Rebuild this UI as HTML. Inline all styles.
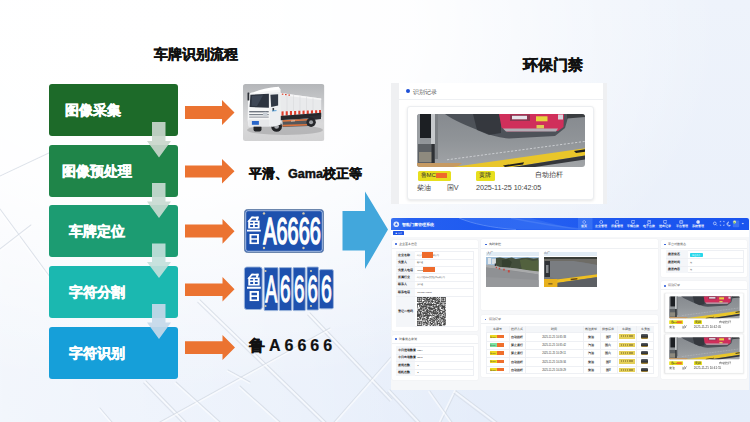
<!DOCTYPE html>
<html><head><meta charset="utf-8">
<style>
*{margin:0;padding:0;box-sizing:border-box}
html,body{width:750px;height:422px;overflow:hidden}
body{position:relative;font-family:"Liberation Sans",sans-serif;background:radial-gradient(ellipse 560px 360px at 160px 30px,#ffffff 0%,rgba(255,255,255,0.92) 45%,rgba(255,255,255,0) 100%),linear-gradient(90deg,rgba(255,255,255,0.5) 0%,rgba(255,255,255,0.25) 40%,rgba(255,255,255,0) 65%),linear-gradient(180deg,#eef3fb 0%,#eaf0fa 60%,#e5edfa 100%)}
.a{position:absolute}
.t{position:absolute;white-space:nowrap;font-weight:bold;line-height:1;-webkit-text-stroke:0.45px #111}
.box{position:absolute;left:49px;width:129px;height:52px;border-radius:3px}
.bt{position:absolute;color:#fff;font-weight:bold;font-size:14px;line-height:14px;white-space:nowrap;-webkit-text-stroke:0.5px #fff}
.oa{position:absolute;left:185px;width:50px;height:26px}
/* GENCSS START */
.rc{position:absolute;width:187px;height:94px;background:#fff;border:1px solid #eceef1;border-radius:3px;box-shadow:0 1px 3px rgba(0,0,0,0.10)}
.rc svg{position:absolute;left:9px;top:6.5px;border-radius:3px}
.rc .bd{position:absolute;top:63.8px;height:9.7px;background:#e7df1e;border-radius:1.5px;font-size:6px;line-height:9.7px;color:#333;padding-left:3px;white-space:nowrap}
.rc .tx{position:absolute;white-space:nowrap;color:#444;font-size:7.2px;line-height:8px}
.rc.sm{transform:scale(0.42);transform-origin:0 0;box-shadow:0 1px 4px rgba(0,0,0,0.12)}
.pn{position:absolute;background:#fff;border-radius:1.5px;box-shadow:0 0 1.5px rgba(0,0,0,0.07)}
.dot{position:absolute;width:1.9px;height:1.9px;background:#2152d8;border-radius:50%}
.ph{position:absolute;font-size:3.1px;line-height:3.4px;color:#333;white-space:nowrap}
.tb{position:absolute;border:0.5px solid #eef0f4;background:#fff}
.tk{position:absolute;font-size:2.9px;line-height:3px;color:#111;font-weight:bold;white-space:nowrap}
.tv{position:absolute;font-size:2.4px;line-height:3px;color:#3a3a3a;white-space:nowrap}
.tc{position:absolute;width:20px;text-align:center;font-size:2.6px;line-height:3px;color:#333;white-space:nowrap}
.lbl{position:absolute;font-size:2.9px;line-height:3.4px;color:#333;white-space:nowrap}
.nl{position:absolute;width:16px;text-align:center;font-size:2.6px;line-height:3px;color:#fff;font-weight:bold;white-space:nowrap}
/* GENCSS END */
</style></head><body>

<!-- shared scene symbols -->
<svg width="0" height="0" style="position:absolute">
<defs>
<linearGradient id="roadg" x1="0" y1="0" x2="0" y2="1"><stop offset="0" stop-color="#868a8f"/><stop offset="0.5" stop-color="#909498"/><stop offset="1" stop-color="#a1a4a7"/></linearGradient>
<symbol id="lu" viewBox="0 0 12.9 27.9" preserveAspectRatio="none">
<path d="M4.3 0.2 H10.8 V2.1 H4.3Z"/>
<path d="M4.3 0.2 L6.4 0.2 L2.4 5.4 L0.3 5.4Z"/>
<path d="M8.9 0.2 L10.9 0.2 L10.1 4.3 L8.2 4.3Z"/>
<path d="M1.2 4.1 H11.7 V12.2 H1.2Z M3 5.7 V7.2 H5.7 V5.7Z M7.3 5.7 V7.2 H9.9 V5.7Z M3 8.7 V10.6 H5.7 V8.7Z M7.3 8.7 V10.6 H9.9 V8.7Z" fill-rule="evenodd"/>
<path d="M0 13.4 H12.9 V15.3 H0Z"/>
<path d="M2.4 17.6 H11.1 V27.9 H2.4Z M4.2 19.3 V21.9 H9.3 V19.3Z M4.2 23.5 V26.2 H9.3 V23.5Z" fill-rule="evenodd"/>
</symbol>
<symbol id="rec" viewBox="0 0 168 53" preserveAspectRatio="none">
<rect width="168" height="53" fill="url(#roadg)"/>
<path d="M28 0 C36 6 50 12 66 18 C76 22 84 24 92 24.5 L138 22 L148 14 L152 0Z" fill="#3f444c" opacity="0.82"/>
<path d="M56 0 H84 L84 19 L72 21 L60 16Z" fill="#2b2e33" opacity="0.7"/>
<path d="M82 0 H147 L146.5 13 L141 17 L90 17.5 L84.5 13.5Z" fill="#d02f5b"/>
<rect x="93" y="0.5" width="20" height="6.5" fill="#8a3550"/>
<rect x="95" y="1.8" width="15" height="3.5" fill="#e6e3ea"/>
<rect x="119" y="2.3" width="11.5" height="5" fill="#e6d43e"/>
<rect x="119.5" y="11" width="7.5" height="3.5" fill="#dccb55"/>
<rect x="141" y="0.5" width="5" height="5" fill="#d7d4dc"/>
<path d="M86 14.5 H141 L139 17.5 H89Z" fill="#b3aeb6"/>
<path d="M150 0 H168 V3 L150 4.5Z" fill="#3a3d40"/>
<rect x="0" y="0" width="3" height="53" fill="#9a9ea2"/>
<rect x="3" y="0" width="11" height="24" fill="#1c1f23"/>
<rect x="14" y="0" width="4" height="38" fill="#c6c9cc"/>
<rect x="18" y="0" width="3" height="45" fill="#7c8084"/>
<rect x="1" y="30" width="17" height="19" fill="#5d6165"/>
<rect x="2" y="38" width="14" height="10" fill="#8e8a7e"/>
<rect x="14.5" y="30" width="3" height="19" fill="#2e3135"/>
<path d="M30 45.8 L168 27.4" stroke="#d0d3d6" stroke-width="0.9" stroke-dasharray="2.2 1.6"/>
<path d="M0 49 H45 L40 53 H0Z" fill="#c69a62"/>
<path d="M36 53 L168 34.2 V41.5 L96 53Z" fill="#e9c62a"/>
<path d="M96 53 L168 41.5 V45.5 L118 53Z" fill="#34363a"/>
<path d="M86 51.4 L107 48.3 L106 50.6 L88 53Z" fill="#1f1f1f"/>
<path d="M157 37 L168 35.3 V37.8 L159 39Z" fill="#1f1f1f"/>
</symbol>
<symbol id="inimg" viewBox="0 0 53 30" preserveAspectRatio="none">
<rect width="53" height="30" fill="#8b8d90"/>
<rect width="53" height="9" fill="#a3c0da"/>
<rect x="2" y="1" width="3" height="6" fill="#e4e8ec"/><rect x="6" y="2" width="4" height="5" fill="#d8dde2"/>
<path d="M10 1 L14 0.5 L20 1.5 L26 0.5 L30 2 L36 1 L42 0.8 L48 1.5 L53 1 V14.5 L44 13.5 L34 12 L24 10.8 L14 10 L10 9.5Z" fill="#434e3c"/>
<path d="M34 3 L40 2 L47 4 L53 3 V14.5 L44 13.5 L36 12.5Z" fill="#56663f" opacity="0.8"/>
<path d="M16 3 L22 2 L26 5 L24 10.8 L16 10Z" fill="#35402f"/>
<path d="M0 7.5 L10 8.5 L14 10 L24 10.8 L34 12 L44 13.5 L53 14.5 V17.5 L40 15.5 L26 13.5 L10 11.5 L0 10.5Z" fill="#a9aaab"/>
<path d="M0 10.5 L53 17.5 V30 H0Z" fill="#8f9194"/>
<path d="M0 20 L53 23 V30 H0Z" fill="#96989b"/>
<g fill="#c4483e"><rect x="9.8" y="9.8" width="1.3" height="1.4"/><rect x="12.8" y="10.8" width="1.5" height="1.6"/><rect x="17.3" y="11.8" width="1.6" height="1.7"/><rect x="22" y="13.2" width="1.9" height="2.2"/></g>
<rect x="8.8" y="6.5" width="1.2" height="2.5" fill="#2a2e33"/>
</symbol>
<symbol id="outimg" viewBox="0 0 53 30" preserveAspectRatio="none">
<rect width="53" height="30" fill="#74777b"/>
<rect width="53" height="2.2" fill="#3a3d37"/>
<path d="M0 2 H53 V8 L40 5.5 L20 4 L0 4Z" fill="#6e6c66"/>
<path d="M5 4 L30 4 L53 8 V18 L12 22 L6 20Z" fill="#7a7d81"/>
<rect x="0.6" y="4" width="5.4" height="16" fill="#2f3236"/>
<rect x="2" y="8" width="2.5" height="8" fill="#85898d"/>
<path d="M12.6 22.4 L51.6 17.4 L53 17.2 V20.2 L51.6 20.3 L12.6 26.1Z" fill="#efbf22"/>
<path d="M12.6 26.1 L53 20.2 V30 H12.6Z" fill="#5c5f63"/>
<path d="M26.7 21.8 L33.4 21 V22.4 L26.7 23.2Z" fill="#6b4a12"/>
<rect x="0" y="22" width="13.4" height="8" fill="#e8b11e"/>
<rect x="4.3" y="26.3" width="4.2" height="1.1" fill="#6a5020"/>
</symbol>
</defs>
</svg>
<!-- background lines -->
<svg class="a" style="left:0;top:0" width="750" height="422" viewBox="0 0 750 422">
<g fill="none" stroke-linecap="round">
<path d="M200 300 L326 422" stroke="#d3d9e3" stroke-width="1.1" opacity="0.75"/>
<path d="M199.1 300.9 L325.1 422.9" stroke="#ffffff" stroke-width="1.6" opacity="0.55"/>
<path d="M197.8 302.3 L323.8 424.3" stroke="#d6dce6" stroke-width="1.1" opacity="0.7"/>
<path d="M146 381 L186 422" stroke="#d3d9e3" stroke-width="1.1" opacity="0.75"/>
<path d="M145.1 381.9 L185.1 422.9" stroke="#ffffff" stroke-width="1.6" opacity="0.55"/>
<path d="M143.7 383.2 L183.7 424.2" stroke="#d6dce6" stroke-width="1.1" opacity="0.7"/>
<path d="M310 313 L392 399" stroke="#d3d9e3" stroke-width="1.1" opacity="0.75"/>
<path d="M309.1 313.9 L391.1 399.9" stroke="#ffffff" stroke-width="1.6" opacity="0.55"/>
<path d="M307.7 315.2 L389.7 401.2" stroke="#d6dce6" stroke-width="1.1" opacity="0.7"/>
<path d="M334 422 L391 357" stroke="#d3d9e3" stroke-width="1.1" opacity="0.75"/>
<path d="M335.0 422.9 L392.0 357.9" stroke="#ffffff" stroke-width="1.6" opacity="0.55"/>
<path d="M160 422 L330 328" stroke="#d3d9e3" stroke-width="1.1" opacity="0.75"/>
<path d="M160.6 423.1 L330.6 329.1" stroke="#ffffff" stroke-width="1.6" opacity="0.55"/>
<path d="M240 386 L280 422" stroke="#d3d9e3" stroke-width="1.1" opacity="0.75"/>
<path d="M239.1 387.0 L279.1 423.0" stroke="#ffffff" stroke-width="1.6" opacity="0.55"/>
<path d="M176 382 L220 422" stroke="#d3d9e3" stroke-width="1.1" opacity="0.75"/>
<path d="M175.1 383.0 L219.1 423.0" stroke="#ffffff" stroke-width="1.6" opacity="0.55"/>
<path d="M100 408 L112 422" stroke="#d3d9e3" stroke-width="1.1" opacity="0.75"/>
<path d="M99.0 408.8 L111.0 422.8" stroke="#ffffff" stroke-width="1.6" opacity="0.55"/>
<path d="M0 176 L50 152.5" stroke="#d3d9e3" stroke-width="1.1" opacity="0.75"/>
<path d="M0.6 177.2 L50.6 153.7" stroke="#ffffff" stroke-width="1.6" opacity="0.55"/>
<path d="M0 209 L50 277" stroke="#d3d9e3" stroke-width="1.1" opacity="0.75"/>
<path d="M-1.0 209.8 L49.0 277.8" stroke="#ffffff" stroke-width="1.6" opacity="0.55"/>
<path d="M0 249 L31 225" stroke="#d3d9e3" stroke-width="1.1" opacity="0.75"/>
<path d="M0.8 250.0 L31.8 226.0" stroke="#ffffff" stroke-width="1.6" opacity="0.55"/>
<path d="M390 390 L420 422" stroke="#d3d9e3" stroke-width="1.1" opacity="0.75"/>
<path d="M389.1 390.9 L419.1 422.9" stroke="#ffffff" stroke-width="1.6" opacity="0.55"/>
<path d="M387.7 392.2 L417.7 424.2" stroke="#d6dce6" stroke-width="1.1" opacity="0.7"/>
<path d="M456 391 L441 422" stroke="#d3d9e3" stroke-width="1.1" opacity="0.75"/>
<path d="M454.8 390.4 L439.8 421.4" stroke="#ffffff" stroke-width="1.6" opacity="0.55"/>
<path d="M456 391 L497 422" stroke="#d3d9e3" stroke-width="1.1" opacity="0.75"/>
<path d="M455.2 392.0 L496.2 423.0" stroke="#ffffff" stroke-width="1.6" opacity="0.55"/>
<path d="M454.1 393.6 L495.1 424.6" stroke="#d6dce6" stroke-width="1.1" opacity="0.7"/>
<path d="M430 391 L452 422" stroke="#d3d9e3" stroke-width="1.1" opacity="0.75"/>
<path d="M428.9 391.8 L450.9 422.8" stroke="#ffffff" stroke-width="1.6" opacity="0.55"/>
<path d="M228 370 L250 382" stroke="#d3d9e3" stroke-width="1.1" opacity="0.75"/>
<path d="M227.4 371.1 L249.4 383.1" stroke="#ffffff" stroke-width="1.6" opacity="0.55"/>
</g></svg>

<div class="t" style="left:154px;top:47px;font-size:14px;color:#111">车牌识别流程</div>
<div class="t" style="left:523px;top:57px;font-size:15px;color:#111">环保门禁</div>

<!-- boxes -->
<div class="box" style="top:84px;background:#1d6a29"></div>
<div class="box" style="top:145px;background:#1f8549"></div>
<div class="box" style="top:205px;background:#1c9c72"></div>
<div class="box" style="top:266px;background:#1bb8b0"></div>
<div class="box" style="top:327px;background:#169fd9"></div>
<div class="bt" style="left:65px;top:103px">图像采集</div>
<div class="bt" style="left:62px;top:164px">图像预处理</div>
<div class="bt" style="left:69px;top:224px">车牌定位</div>
<div class="bt" style="left:69px;top:285px">字符分割</div>
<div class="bt" style="left:69px;top:346px">字符识别</div>

<!-- down arrows -->
<svg class="a" style="left:0;top:0" width="200" height="422" viewBox="0 0 200 422">
<g opacity="0.92">
<path d="M152 122 H165.5 V141 H171 L159 157.5 L147 141 H152Z" fill="#c9d6cc"/>
<path d="M152 183 H165.5 V201.5 H171 L159 218 L147 201.5 H152Z" fill="#c8dbd2"/>
<path d="M152 243.5 H165.5 V262 H171 L159 278 L147 262 H152Z" fill="#c3e0dc"/>
<path d="M152 304 H165.5 V322.5 H171 L159 339 L147 322.5 H152Z" fill="#c6d9ea"/>
</g>
</svg>

<!-- orange arrows -->
<svg class="a" style="left:0;top:0" width="240" height="422" viewBox="0 0 240 422">
<g fill="#eb7331">
<path d="M185 106 H222 V100 L234.5 112.5 L222 125 V119 H185Z"/>
<path d="M185 165.5 H222 V159 L234.5 171.3 L222 183.5 V177.5 H185Z"/>
<path d="M185 224.5 H222.5 V219 L234.5 231.3 L222.5 243.7 V237.5 H185Z"/>
<path d="M185 283.5 H222.5 V277 L234.5 289.3 L222.5 301.6 V296 H185Z"/>
<path d="M185 341.3 H222.5 V335 L235 347.5 L222.5 360 V354 H185Z"/>
</g>
</svg>

<!-- truck image -->
<svg class="a" style="left:243.4px;top:83.9px" width="81.4" height="57" viewBox="0 0 81.4 57">
<defs><linearGradient id="tg" x1="0" y1="0" x2="0" y2="1"><stop offset="0" stop-color="#b4b6b9"/><stop offset="0.45" stop-color="#cfd0d2"/><stop offset="0.7" stop-color="#d9d9da"/><stop offset="1" stop-color="#d2d2d3"/></linearGradient>
<clipPath id="tclip"><rect width="81.4" height="57" rx="2.5"/></clipPath></defs>
<g clip-path="url(#tclip)">
<rect width="81.4" height="57" fill="url(#tg)"/>
<ellipse cx="42" cy="46" rx="38" ry="5" fill="#9c9c9e" opacity="0.55"/>
<!-- cargo box -->
<path d="M37.4 8.9 L78.2 14.4 L78.2 28.8 L37.4 31.9Z" fill="#e9eaec"/>
<path d="M37.4 8.9 L78.2 14.4 L78.2 16 L37.4 11Z" fill="#f6f6f7"/>
<g stroke="#d2d4d7" stroke-width="0.45"><path d="M44 10 V31.4"/><path d="M50.5 10.8 V30.9"/><path d="M57 11.7 V30.4"/><path d="M63.5 12.6 V29.9"/><path d="M70 13.4 V29.4"/></g>
<g fill="#d9412c"><rect x="38.8" y="9.6" width="1.6" height="1.2"/><rect x="42" y="10" width="1.6" height="1.2"/><rect x="45.4" y="10.5" width="1.6" height="1.2"/></g>
<path d="M37.4 27.4 L78.2 26 L78.2 28.8 L37.4 31.9Z" fill="#f3f3f3"/>
<g fill="#de3f2c">
<path d="M38.5 27.4 L40.6 27.3 L40.6 31.7 L38.5 31.8Z"/><path d="M42.7 27.2 L44.8 27.2 L44.8 31.4 L42.7 31.5Z"/><path d="M46.9 27.1 L49 27 L49 31.1 L46.9 31.2Z"/><path d="M51.1 27 L53.2 26.9 L53.2 30.8 L51.1 30.9Z"/><path d="M55.3 26.8 L57.4 26.8 L57.4 30.5 L55.3 30.6Z"/><path d="M59.5 26.7 L61.6 26.6 L61.6 30.2 L59.5 30.3Z"/><path d="M63.7 26.5 L65.8 26.5 L65.8 29.9 L63.7 30Z"/><path d="M67.9 26.4 L70 26.3 L70 29.6 L67.9 29.7Z"/><path d="M72.1 26.3 L74.2 26.2 L74.2 29.3 L72.1 29.4Z"/><path d="M76 26.1 L78 26.1 L78 29 L76 29.1Z"/>
</g>
<!-- chassis -->
<path d="M36 31.9 L78.2 28.8 L78.2 33 L72 34 L40 36 L36 36.5Z" fill="#26282b"/>
<path d="M39.6 36 L66 34.4 L66 42 L39.6 43Z" fill="#55575a"/>
<path d="M39.6 36.2 L65 35 L65 36.6 L39.6 37.8Z" fill="#e07a45"/>
<path d="M39.6 40.8 L64 39.9 L64 41.6 L39.6 42.6Z" fill="#d8733f"/>
<path d="M48 36.7 L52 36.5 L52 37.3 L48 37.5Z" fill="#f0e0d0"/>
<path d="M66 32 L78 31 L78 35 L70 36Z" fill="#2e3034"/>
<!-- wheels -->
<circle cx="68.1" cy="38.3" r="4.7" fill="#26272a"/><circle cx="68.1" cy="38.3" r="2" fill="#9da0a4"/>
<circle cx="33.6" cy="42.4" r="5.4" fill="#222326"/><circle cx="33.6" cy="42.4" r="2.4" fill="#a8abaf"/>
<rect x="10.5" y="41" width="8" height="6.5" rx="2" fill="#232427"/>
<!-- cab -->
<path d="M5.2 11.8 Q6 8.5 11 8 L26 5.5 Q30 3.2 35.5 3 L37.6 5.2 L37.6 40.5 L30 42.6 L5.6 42.4 L4.6 36Z" fill="#f5f6f7"/>
<path d="M11 8.2 Q20 4 35.8 2.8 L36.8 5.6 Q24 6.4 11.5 9.6Z" fill="#ffffff"/>
<path d="M26.5 8.8 L37.4 8 L37.4 40.5 L30 42.6 L26.8 42.3Z" fill="#eceef0"/>
<path d="M7.4 10.8 L25.9 9.7 L25.9 23.8 L6.6 23.1Z" fill="#2d3440"/>
<path d="M9 12 L20 11.3 L14 22 L8.5 21.8Z" fill="#4a5566" opacity="0.6"/>
<path d="M27.4 10.7 L35.1 10.3 L35.1 21.5 L28.2 23.1Z" fill="#303845"/>
<rect x="4.5" y="8.5" width="1.8" height="8" rx="0.6" fill="#2b2f35"/>
<!-- front -->
<rect x="6.2" y="27" width="19.5" height="1.4" fill="#6f7680"/>
<rect x="6.2" y="30" width="19.5" height="1.2" fill="#7a818a"/>
<rect x="6.2" y="32.6" width="19.5" height="1" fill="#8a9099"/>
<ellipse cx="22.2" cy="30" rx="2.4" ry="2.2" fill="#c9cfd6"/>
<rect x="5.4" y="35.5" width="21" height="6.8" rx="1" fill="#e7e8ea"/>
<rect x="8.9" y="37" width="7" height="3.8" fill="#2a66c9"/>
<rect x="29.5" y="24" width="1.6" height="3" fill="#3a3f46"/>
<path d="M29 27 L33.5 26.6" stroke="#4a9ad8" stroke-width="0.9"/>
</g>
</svg>

<div class="t" style="left:249px;top:167.5px;font-size:12.6px;color:#111">平滑、Gama校正等</div>

<!-- plate -->
<svg class="a" style="left:0;top:0" width="340" height="320" viewBox="0 0 340 320">
<rect x="244.5" y="209.5" width="79" height="43" rx="3" fill="#1e51ae" stroke="#6b86ad" stroke-width="1"/>
<rect x="245.7" y="210.7" width="76.6" height="40.6" rx="2.2" fill="#1e51ae" stroke="#d5e1f0" stroke-width="0.8"/>
<g fill="#fff" stroke="#fff" stroke-width="1.3" font-family="Liberation Sans, sans-serif">
</g><svg x="246.9" y="216.3" width="14" height="27.9" viewBox="0 0 12.9 27.9" preserveAspectRatio="none" fill="#fff"><use href="#lu" width="12.9" height="27.9"/></svg><g fill="#fff" stroke="#fff" stroke-width="1.3" font-family="Liberation Sans, sans-serif">
<text x="263.2" y="244" font-size="37" textLength="57.6" lengthAdjust="spacingAndGlyphs" stroke-width="1.6">A6666</text>
</g>
<g fill="#d8c9a8"><circle cx="264" cy="213.4" r="1.2"/><circle cx="303.5" cy="213.4" r="1.2"/><circle cx="264" cy="248" r="1.2"/><circle cx="303.5" cy="248" r="1.2"/></g>
<!-- segmented -->
<g stroke="#9db7dc" stroke-width="0.9" fill="#1e51ae">
<rect x="244.4" y="267" width="17.8" height="42.5" rx="2.5"/>
<rect x="264.2" y="267.6" width="13.8" height="43" rx="0.8"/>
<rect x="279.3" y="267.6" width="12.4" height="43" rx="0.8"/>
<rect x="293.1" y="267.6" width="12.2" height="43" rx="0.8"/>
<rect x="307" y="267" width="11.4" height="43" rx="0.8"/>
<rect x="319.4" y="269.6" width="14" height="39.2" rx="1.5"/>
</g>
<g fill="#fff" stroke="#fff" stroke-width="1.3" font-family="Liberation Sans, sans-serif">
</g><svg x="247" y="273.4" width="13.9" height="27.9" viewBox="0 0 12.9 27.9" preserveAspectRatio="none" fill="#fff"><use href="#lu" width="12.9" height="27.9"/></svg><g fill="#fff" stroke="#fff" stroke-width="1.3" font-family="Liberation Sans, sans-serif">
<text x="265.2" y="302" font-size="37.5" textLength="12" lengthAdjust="spacingAndGlyphs">A</text>
<text x="280" y="302" font-size="37.5" textLength="10.5" lengthAdjust="spacingAndGlyphs">6</text>
<text x="294" y="302" font-size="37.5" textLength="10.5" lengthAdjust="spacingAndGlyphs">6</text>
<text x="307.6" y="302" font-size="37.5" textLength="10.3" lengthAdjust="spacingAndGlyphs">6</text>
<text x="321" y="302" font-size="37.5" textLength="10.8" lengthAdjust="spacingAndGlyphs">6</text>
</g>
<g fill="#d8c9a8"><circle cx="265.5" cy="271" r="1.1"/><circle cx="311" cy="271" r="1.1"/><circle cx="265.5" cy="306" r="1.1"/><circle cx="311" cy="306" r="1.1"/></g>
</svg>

<div class="t" style="left:249px;top:338px;font-size:16px;color:#111;letter-spacing:4px;-webkit-text-stroke:0.2px #111">鲁A6666</div>

<!-- blue big arrow -->
<svg class="a" style="left:340px;top:190px" width="50" height="82" viewBox="340 190 50 82">
<path d="M342.5 211 H365 V191.5 L388 229.5 L365 269 V250.5 H342.5Z" fill="#42a7dc"/>
</svg>

<!-- GEN START -->
<!-- top record card (screenshot) -->
<div class="a" style="left:391.3px;top:83px;width:216px;height:120.5px;background:#eff0f2"></div>
<div class="a" style="left:399px;top:83px;width:204.3px;height:120.5px;background:#fff"></div>
<div class="a" style="left:405.6px;top:89px;width:4px;height:4px;border-radius:50%;background:#1c4fd6"></div>
<div class="a" style="left:413.3px;top:88px;font-size:6.2px;line-height:7px;color:#555;white-space:nowrap">识别记录</div>
<div class="a" style="left:399px;top:98.5px;width:204.3px;height:1px;background:#eef0f3"></div>
<div class="rc" style="left:407.3px;top:106.3px"><svg width="168" height="53" viewBox="0 0 168 53"><use href="#rec" width="168" height="53"/></svg>
<div class="bd" style="left:9.3px;width:33px">鲁MC<span style="position:absolute;left:18px;top:2.3px;width:11.7px;height:5.1px;background:#ef6a2a"></span></div>
<div class="bd" style="left:67.7px;width:19.5px">黄牌</div>
<div class="tx" style="left:127px;top:64px;color:#333">自动抬杆</div>
<div class="tx" style="left:9px;top:77px">柴油</div>
<div class="tx" style="left:38.4px;top:77px">国V</div>
<div class="tx" style="left:67.7px;top:77px;letter-spacing:-0.05px">2025-11-25 10:42:05</div></div>
<!-- dashboard screenshot -->
<div class="a" style="left:391px;top:218px;width:358px;height:172px;background:#f6f7f9"></div>
<div class="a" style="left:391px;top:218px;width:358px;height:11.6px;border-radius:2px 2px 0 0;background:linear-gradient(90deg,#3a72f2 0%,#2560f1 5%,#1f5bf0 25%,#235ef1 45%,#1b55ef 70%,#1a54ef 100%)"></div>
<svg class="a" style="left:391px;top:218px" width="358" height="12" viewBox="0 0 358 12">
<path d="M68 0 C80 5 100 9 130 11.6 L190 11.6 C170 8 150 3 140 0Z" fill="#4f88f7" opacity="0.3"/>
<path d="M68 0 C82 6 100 9.5 125 11.6" stroke="#86aefb" stroke-width="1" fill="none" opacity="0.5"/>
<path d="M120 0 C140 4 160 8 190 11" stroke="#6f9cf9" stroke-width="1.5" fill="none" opacity="0.3"/>
<rect x="187" y="0" width="14.5" height="11.6" fill="#3f78f5" opacity="0.75"/>
<circle cx="5.3" cy="6.3" r="2.8" fill="#dfe8fb"/><path d="M3.8 7.2 L5.3 4.6 L6.8 7.2Z" fill="#2f68ef"/>
</svg>
<div class="a" style="left:401.8px;top:221.8px;font-size:4.4px;line-height:5px;color:#fff;font-weight:bold;white-space:nowrap">智能门禁管理系统</div>
<div class="a" style="left:391px;top:229.6px;width:358px;height:7px;background:#fff"></div>
<div class="a" style="left:393.3px;top:231.3px;width:10.4px;height:4.2px;background:#1f55e6;border-radius:0.5px"></div>
<div class="a" style="left:395.5px;top:231.9px;font-size:2.4px;line-height:3px;color:#fff;white-space:nowrap">■ 首页</div>
<!-- nav -->
<div class="a" id="nav" style="left:0;top:0"></div>
<svg class="a" style="left:582.2px;top:219.6px" width="4.4" height="4" viewBox="0 0 4.4 4"><g fill="none" stroke="#dfe8ff" stroke-width="0.55"><path d="M2.2 0.4 L3.9 2 L2.2 3.6 L0.5 2Z"/></g></svg>
<div class="nl" style="left:576.4px;top:224.6px">首页</div>
<svg class="a" style="left:599.1px;top:219.6px" width="4.4" height="4" viewBox="0 0 4.4 4"><g fill="none" stroke="#dfe8ff" stroke-width="0.55"><circle cx="2.2" cy="2" r="1.5"/></g></svg>
<div class="nl" style="left:593.3px;top:224.6px">企业管理</div>
<svg class="a" style="left:615.1px;top:219.6px" width="4.4" height="4" viewBox="0 0 4.4 4"><g fill="none" stroke="#dfe8ff" stroke-width="0.55"><rect x="0.6" y="0.6" width="3.2" height="2.8" rx="0.4"/></g></svg>
<div class="nl" style="left:609.3px;top:224.6px">设备管理</div>
<svg class="a" style="left:631.1px;top:219.6px" width="4.4" height="4" viewBox="0 0 4.4 4"><g fill="none" stroke="#dfe8ff" stroke-width="0.55"><rect x="0.4" y="0.5" width="3.6" height="2.6" rx="0.4"/><path d="M1.4 3.6 H3"/></g></svg>
<div class="nl" style="left:625.3px;top:224.6px">车辆台账</div>
<svg class="a" style="left:647.1px;top:219.6px" width="4.4" height="4" viewBox="0 0 4.4 4"><g fill="none" stroke="#dfe8ff" stroke-width="0.55"><path d="M0.8 0.5 H3.6 V3.5 H0.8Z M1.5 1.5 H2.9"/></g></svg>
<div class="nl" style="left:641.3px;top:224.6px">电子台账</div>
<svg class="a" style="left:663.1px;top:219.6px" width="4.4" height="4" viewBox="0 0 4.4 4"><g fill="none" stroke="#dfe8ff" stroke-width="0.55"><rect x="0.4" y="0.5" width="3.6" height="2.6" rx="0.4"/><path d="M1.4 3.6 H3"/></g></svg>
<div class="nl" style="left:657.3px;top:224.6px">进出记录</div>
<svg class="a" style="left:679.3px;top:219.6px" width="4.4" height="4" viewBox="0 0 4.4 4"><g fill="none" stroke="#dfe8ff" stroke-width="0.55"><rect x="0.7" y="0.5" width="3" height="3" rx="0.3"/><path d="M0.7 2 H3.7"/></g></svg>
<div class="nl" style="left:673.5px;top:224.6px">平台管理</div>
<svg class="a" style="left:695.6px;top:219.6px" width="4.4" height="4" viewBox="0 0 4.4 4"><g fill="none" stroke="#dfe8ff" stroke-width="0.55"><circle cx="2.2" cy="2" r="1.2" fill="#e6eeff"/><circle cx="2.2" cy="2" r="1.7"/></g></svg>
<div class="nl" style="left:689.8px;top:224.6px">系统管理</div>
<svg class="a" style="left:712px;top:220px" width="34" height="9" viewBox="0 0 34 9"><g stroke="#eaf0ff" stroke-width="0.6" fill="none"><circle cx="2.8" cy="3.4" r="1.4"/><path d="M3.8 4.4 L5 5.6"/><path d="M8.2 2.2 v-0.8 h1 M11.2 1.4 h1 v0.8 M8.2 4.6 v0.8 h1 M11.2 5.4 h1 v-0.8"/><path d="M16.8 2 a2 2 0 1 0 1.6 3.4 a1.6 1.6 0 0 1 -1.6 -3.4Z"/><path d="M30.2 3.4 l0.6 0.7 l0.6 -0.7Z" fill="#eaf0ff"/></g><rect x="20.8" y="0.4" width="6.4" height="6.8" rx="0.8" fill="#3d72f3"/><circle cx="22.6" cy="2" r="1.4" fill="#e8ee9a"/><circle cx="22.3" cy="2.8" r="0.9" fill="#7cc46a"/></svg>
<!-- panels -->
<div class="pn" style="left:392px;top:239.5px;width:86.3px;height:91.3px"></div>
<div class="pn" style="left:392px;top:334.7px;width:86.3px;height:45.1px"></div>
<div class="pn" style="left:481px;top:239.3px;width:177px;height:71.2px"></div>
<div class="pn" style="left:481.3px;top:314.8px;width:176.7px;height:62.4px"></div>
<div class="pn" style="left:661px;top:239.6px;width:86.4px;height:37.7px"></div>
<div class="pn" style="left:661px;top:280.6px;width:86.4px;height:98px"></div>
<div class="dot" style="left:394.9px;top:243.2px"></div><div class="ph" style="left:398.8px;top:242.5px">企业基本信息</div>
<div class="a" style="left:392px;top:247.5px;width:86.3px;height:0.6px;background:#eef0f3"></div>
<div class="tb" style="left:395.8px;top:251.2px;width:78.2px;height:76.2px"></div><div class="a" style="left:395.8px;top:251.2px;width:19.2px;height:76.2px;background:#f4f6f9"></div><div class="tk" style="left:398.0px;top:253.8px;font-size:2.90px">企业名称</div><div class="tv" style="left:417.2px;top:253.8px">山东省德州市某有限公司</div><div class="a" style="left:395.8px;top:258.6px;width:78.2px;height:0.5px;background:#eef0f4"></div><div class="tk" style="left:398.0px;top:261.2px;font-size:2.90px">负责人</div><div class="tv" style="left:417.2px;top:261.2px">杨经理</div><div class="a" style="left:395.8px;top:266.0px;width:78.2px;height:0.5px;background:#eef0f4"></div><div class="tk" style="left:398.0px;top:268.6px;font-size:2.90px">负责人电话</div><div class="tv" style="left:417.2px;top:268.6px">18753447381</div><div class="a" style="left:395.8px;top:273.4px;width:78.2px;height:0.5px;background:#eef0f4"></div><div class="tk" style="left:398.0px;top:276.0px;font-size:2.90px">所属行业</div><div class="tv" style="left:417.2px;top:276.0px">山东省德州市某某技术有限公司</div><div class="a" style="left:395.8px;top:280.8px;width:78.2px;height:0.5px;background:#eef0f4"></div><div class="tk" style="left:398.0px;top:283.4px;font-size:2.90px">联系人</div><div class="tv" style="left:417.2px;top:283.4px">张经理</div><div class="a" style="left:395.8px;top:288.2px;width:78.2px;height:0.5px;background:#eef0f4"></div><div class="tk" style="left:398.0px;top:290.8px;font-size:2.90px">联系电话</div><div class="tv" style="left:417.2px;top:290.8px">18953447381</div><div class="a" style="left:395.8px;top:295.6px;width:78.2px;height:0.5px;background:#eef0f4"></div><div class="tk" style="left:398.0px;top:310.4px;font-size:2.90px">登记二维码</div>
<div class="a" style="left:421.7px;top:252.4px;width:11.3px;height:5.4px;background:#ee6b2c"></div>
<div class="a" style="left:423.2px;top:267px;width:11.4px;height:5.3px;background:#ee6b2c"></div>
<svg class="a" style="left:416.9px;top:297.4px" width="28.8" height="28.8" viewBox="0 0 41 41"><g fill="#111"><rect width="41" height="41" fill="#fff"/><rect x="0" y="0" width="7" height="1"/><rect x="8" y="0" width="5" height="1"/><rect x="14" y="0" width="3" height="1"/><rect x="18" y="0" width="2" height="1"/><rect x="21" y="0" width="1" height="1"/><rect x="23" y="0" width="4" height="1"/><rect x="28" y="0" width="2" height="1"/><rect x="31" y="0" width="2" height="1"/><rect x="34" y="0" width="7" height="1"/><rect x="0" y="1" width="1" height="1"/><rect x="6" y="1" width="1" height="1"/><rect x="8" y="1" width="1" height="1"/><rect x="10" y="1" width="2" height="1"/><rect x="13" y="1" width="3" height="1"/><rect x="18" y="1" width="1" height="1"/><rect x="20" y="1" width="1" height="1"/><rect x="22" y="1" width="3" height="1"/><rect x="27" y="1" width="1" height="1"/><rect x="29" y="1" width="1" height="1"/><rect x="34" y="1" width="1" height="1"/><rect x="40" y="1" width="1" height="1"/><rect x="0" y="2" width="1" height="1"/><rect x="2" y="2" width="3" height="1"/><rect x="6" y="2" width="1" height="1"/><rect x="8" y="2" width="1" height="1"/><rect x="12" y="2" width="3" height="1"/><rect x="17" y="2" width="11" height="1"/><rect x="30" y="2" width="2" height="1"/><rect x="34" y="2" width="1" height="1"/><rect x="36" y="2" width="3" height="1"/><rect x="40" y="2" width="1" height="1"/><rect x="0" y="3" width="1" height="1"/><rect x="2" y="3" width="3" height="1"/><rect x="6" y="3" width="1" height="1"/><rect x="8" y="3" width="4" height="1"/><rect x="13" y="3" width="6" height="1"/><rect x="21" y="3" width="6" height="1"/><rect x="28" y="3" width="2" height="1"/><rect x="31" y="3" width="2" height="1"/><rect x="34" y="3" width="1" height="1"/><rect x="36" y="3" width="3" height="1"/><rect x="40" y="3" width="1" height="1"/><rect x="0" y="4" width="1" height="1"/><rect x="2" y="4" width="3" height="1"/><rect x="6" y="4" width="1" height="1"/><rect x="12" y="4" width="7" height="1"/><rect x="21" y="4" width="1" height="1"/><rect x="25" y="4" width="6" height="1"/><rect x="34" y="4" width="1" height="1"/><rect x="36" y="4" width="3" height="1"/><rect x="40" y="4" width="1" height="1"/><rect x="0" y="5" width="1" height="1"/><rect x="6" y="5" width="1" height="1"/><rect x="10" y="5" width="3" height="1"/><rect x="15" y="5" width="1" height="1"/><rect x="19" y="5" width="4" height="1"/><rect x="25" y="5" width="1" height="1"/><rect x="27" y="5" width="1" height="1"/><rect x="30" y="5" width="3" height="1"/><rect x="34" y="5" width="1" height="1"/><rect x="40" y="5" width="1" height="1"/><rect x="0" y="6" width="7" height="1"/><rect x="8" y="6" width="3" height="1"/><rect x="12" y="6" width="2" height="1"/><rect x="15" y="6" width="4" height="1"/><rect x="20" y="6" width="4" height="1"/><rect x="25" y="6" width="2" height="1"/><rect x="29" y="6" width="4" height="1"/><rect x="34" y="6" width="7" height="1"/><rect x="8" y="7" width="2" height="1"/><rect x="13" y="7" width="1" height="1"/><rect x="16" y="7" width="1" height="1"/><rect x="19" y="7" width="1" height="1"/><rect x="21" y="7" width="2" height="1"/><rect x="25" y="7" width="6" height="1"/><rect x="32" y="7" width="1" height="1"/><rect x="2" y="8" width="3" height="1"/><rect x="6" y="8" width="3" height="1"/><rect x="11" y="8" width="2" height="1"/><rect x="14" y="8" width="1" height="1"/><rect x="16" y="8" width="2" height="1"/><rect x="19" y="8" width="2" height="1"/><rect x="24" y="8" width="1" height="1"/><rect x="26" y="8" width="1" height="1"/><rect x="28" y="8" width="3" height="1"/><rect x="32" y="8" width="9" height="1"/><rect x="0" y="9" width="1" height="1"/><rect x="2" y="9" width="7" height="1"/><rect x="10" y="9" width="3" height="1"/><rect x="14" y="9" width="1" height="1"/><rect x="16" y="9" width="2" height="1"/><rect x="19" y="9" width="2" height="1"/><rect x="23" y="9" width="1" height="1"/><rect x="27" y="9" width="5" height="1"/><rect x="33" y="9" width="3" height="1"/><rect x="39" y="9" width="2" height="1"/><rect x="0" y="10" width="5" height="1"/><rect x="7" y="10" width="2" height="1"/><rect x="10" y="10" width="18" height="1"/><rect x="32" y="10" width="2" height="1"/><rect x="35" y="10" width="1" height="1"/><rect x="38" y="10" width="1" height="1"/><rect x="0" y="11" width="1" height="1"/><rect x="3" y="11" width="3" height="1"/><rect x="9" y="11" width="1" height="1"/><rect x="13" y="11" width="5" height="1"/><rect x="19" y="11" width="3" height="1"/><rect x="23" y="11" width="2" height="1"/><rect x="27" y="11" width="2" height="1"/><rect x="30" y="11" width="1" height="1"/><rect x="32" y="11" width="3" height="1"/><rect x="36" y="11" width="1" height="1"/><rect x="39" y="11" width="2" height="1"/><rect x="0" y="12" width="1" height="1"/><rect x="3" y="12" width="1" height="1"/><rect x="5" y="12" width="3" height="1"/><rect x="9" y="12" width="5" height="1"/><rect x="17" y="12" width="5" height="1"/><rect x="23" y="12" width="1" height="1"/><rect x="26" y="12" width="2" height="1"/><rect x="30" y="12" width="3" height="1"/><rect x="34" y="12" width="4" height="1"/><rect x="39" y="12" width="1" height="1"/><rect x="0" y="13" width="1" height="1"/><rect x="3" y="13" width="1" height="1"/><rect x="5" y="13" width="9" height="1"/><rect x="15" y="13" width="1" height="1"/><rect x="18" y="13" width="1" height="1"/><rect x="22" y="13" width="3" height="1"/><rect x="26" y="13" width="6" height="1"/><rect x="33" y="13" width="1" height="1"/><rect x="35" y="13" width="5" height="1"/><rect x="5" y="14" width="1" height="1"/><rect x="7" y="14" width="1" height="1"/><rect x="9" y="14" width="1" height="1"/><rect x="12" y="14" width="2" height="1"/><rect x="15" y="14" width="4" height="1"/><rect x="21" y="14" width="1" height="1"/><rect x="23" y="14" width="6" height="1"/><rect x="30" y="14" width="2" height="1"/><rect x="34" y="14" width="7" height="1"/><rect x="0" y="15" width="2" height="1"/><rect x="4" y="15" width="7" height="1"/><rect x="12" y="15" width="3" height="1"/><rect x="16" y="15" width="5" height="1"/><rect x="24" y="15" width="2" height="1"/><rect x="28" y="15" width="4" height="1"/><rect x="36" y="15" width="4" height="1"/><rect x="4" y="16" width="3" height="1"/><rect x="8" y="16" width="1" height="1"/><rect x="11" y="16" width="3" height="1"/><rect x="16" y="16" width="10" height="1"/><rect x="29" y="16" width="3" height="1"/><rect x="34" y="16" width="3" height="1"/><rect x="38" y="16" width="2" height="1"/><rect x="1" y="17" width="4" height="1"/><rect x="6" y="17" width="1" height="1"/><rect x="9" y="17" width="2" height="1"/><rect x="12" y="17" width="1" height="1"/><rect x="14" y="17" width="2" height="1"/><rect x="17" y="17" width="1" height="1"/><rect x="19" y="17" width="4" height="1"/><rect x="25" y="17" width="3" height="1"/><rect x="29" y="17" width="4" height="1"/><rect x="38" y="17" width="2" height="1"/><rect x="1" y="18" width="1" height="1"/><rect x="3" y="18" width="7" height="1"/><rect x="11" y="18" width="1" height="1"/><rect x="13" y="18" width="2" height="1"/><rect x="17" y="18" width="4" height="1"/><rect x="22" y="18" width="2" height="1"/><rect x="25" y="18" width="2" height="1"/><rect x="29" y="18" width="3" height="1"/><rect x="33" y="18" width="1" height="1"/><rect x="36" y="18" width="2" height="1"/><rect x="39" y="18" width="2" height="1"/><rect x="1" y="19" width="3" height="1"/><rect x="8" y="19" width="3" height="1"/><rect x="13" y="19" width="4" height="1"/><rect x="18" y="19" width="1" height="1"/><rect x="23" y="19" width="4" height="1"/><rect x="28" y="19" width="2" height="1"/><rect x="31" y="19" width="5" height="1"/><rect x="39" y="19" width="2" height="1"/><rect x="0" y="20" width="2" height="1"/><rect x="3" y="20" width="4" height="1"/><rect x="11" y="20" width="1" height="1"/><rect x="13" y="20" width="3" height="1"/><rect x="17" y="20" width="4" height="1"/><rect x="22" y="20" width="3" height="1"/><rect x="26" y="20" width="2" height="1"/><rect x="31" y="20" width="2" height="1"/><rect x="36" y="20" width="4" height="1"/><rect x="0" y="21" width="1" height="1"/><rect x="2" y="21" width="1" height="1"/><rect x="4" y="21" width="2" height="1"/><rect x="8" y="21" width="9" height="1"/><rect x="18" y="21" width="3" height="1"/><rect x="22" y="21" width="3" height="1"/><rect x="26" y="21" width="5" height="1"/><rect x="32" y="21" width="2" height="1"/><rect x="35" y="21" width="3" height="1"/><rect x="39" y="21" width="2" height="1"/><rect x="0" y="22" width="2" height="1"/><rect x="4" y="22" width="2" height="1"/><rect x="7" y="22" width="2" height="1"/><rect x="10" y="22" width="1" height="1"/><rect x="12" y="22" width="1" height="1"/><rect x="14" y="22" width="4" height="1"/><rect x="20" y="22" width="7" height="1"/><rect x="28" y="22" width="2" height="1"/><rect x="32" y="22" width="2" height="1"/><rect x="36" y="22" width="2" height="1"/><rect x="39" y="22" width="1" height="1"/><rect x="0" y="23" width="1" height="1"/><rect x="2" y="23" width="1" height="1"/><rect x="4" y="23" width="2" height="1"/><rect x="8" y="23" width="7" height="1"/><rect x="17" y="23" width="2" height="1"/><rect x="20" y="23" width="1" height="1"/><rect x="22" y="23" width="8" height="1"/><rect x="31" y="23" width="6" height="1"/><rect x="39" y="23" width="2" height="1"/><rect x="0" y="24" width="8" height="1"/><rect x="9" y="24" width="1" height="1"/><rect x="12" y="24" width="4" height="1"/><rect x="17" y="24" width="1" height="1"/><rect x="22" y="24" width="1" height="1"/><rect x="24" y="24" width="1" height="1"/><rect x="27" y="24" width="1" height="1"/><rect x="30" y="24" width="2" height="1"/><rect x="33" y="24" width="1" height="1"/><rect x="35" y="24" width="1" height="1"/><rect x="37" y="24" width="2" height="1"/><rect x="40" y="24" width="1" height="1"/><rect x="0" y="25" width="6" height="1"/><rect x="9" y="25" width="1" height="1"/><rect x="11" y="25" width="2" height="1"/><rect x="14" y="25" width="1" height="1"/><rect x="16" y="25" width="2" height="1"/><rect x="19" y="25" width="1" height="1"/><rect x="21" y="25" width="2" height="1"/><rect x="24" y="25" width="1" height="1"/><rect x="26" y="25" width="2" height="1"/><rect x="29" y="25" width="2" height="1"/><rect x="32" y="25" width="1" height="1"/><rect x="34" y="25" width="1" height="1"/><rect x="37" y="25" width="1" height="1"/><rect x="39" y="25" width="2" height="1"/><rect x="0" y="26" width="5" height="1"/><rect x="6" y="26" width="2" height="1"/><rect x="9" y="26" width="12" height="1"/><rect x="22" y="26" width="3" height="1"/><rect x="28" y="26" width="3" height="1"/><rect x="32" y="26" width="2" height="1"/><rect x="35" y="26" width="1" height="1"/><rect x="38" y="26" width="1" height="1"/><rect x="40" y="26" width="1" height="1"/><rect x="0" y="27" width="4" height="1"/><rect x="5" y="27" width="2" height="1"/><rect x="8" y="27" width="4" height="1"/><rect x="14" y="27" width="4" height="1"/><rect x="21" y="27" width="1" height="1"/><rect x="24" y="27" width="1" height="1"/><rect x="26" y="27" width="6" height="1"/><rect x="36" y="27" width="3" height="1"/><rect x="40" y="27" width="1" height="1"/><rect x="0" y="28" width="1" height="1"/><rect x="3" y="28" width="1" height="1"/><rect x="5" y="28" width="3" height="1"/><rect x="11" y="28" width="1" height="1"/><rect x="13" y="28" width="2" height="1"/><rect x="20" y="28" width="1" height="1"/><rect x="24" y="28" width="1" height="1"/><rect x="26" y="28" width="5" height="1"/><rect x="32" y="28" width="3" height="1"/><rect x="36" y="28" width="4" height="1"/><rect x="3" y="29" width="3" height="1"/><rect x="9" y="29" width="1" height="1"/><rect x="13" y="29" width="4" height="1"/><rect x="22" y="29" width="3" height="1"/><rect x="26" y="29" width="6" height="1"/><rect x="33" y="29" width="2" height="1"/><rect x="36" y="29" width="1" height="1"/><rect x="38" y="29" width="3" height="1"/><rect x="0" y="30" width="1" height="1"/><rect x="2" y="30" width="1" height="1"/><rect x="4" y="30" width="2" height="1"/><rect x="7" y="30" width="1" height="1"/><rect x="9" y="30" width="3" height="1"/><rect x="14" y="30" width="3" height="1"/><rect x="18" y="30" width="3" height="1"/><rect x="22" y="30" width="1" height="1"/><rect x="24" y="30" width="2" height="1"/><rect x="27" y="30" width="2" height="1"/><rect x="30" y="30" width="1" height="1"/><rect x="34" y="30" width="4" height="1"/><rect x="39" y="30" width="1" height="1"/><rect x="0" y="31" width="3" height="1"/><rect x="4" y="31" width="2" height="1"/><rect x="7" y="31" width="3" height="1"/><rect x="13" y="31" width="3" height="1"/><rect x="19" y="31" width="2" height="1"/><rect x="22" y="31" width="3" height="1"/><rect x="26" y="31" width="3" height="1"/><rect x="31" y="31" width="8" height="1"/><rect x="0" y="32" width="1" height="1"/><rect x="2" y="32" width="2" height="1"/><rect x="7" y="32" width="2" height="1"/><rect x="10" y="32" width="5" height="1"/><rect x="17" y="32" width="1" height="1"/><rect x="19" y="32" width="4" height="1"/><rect x="25" y="32" width="2" height="1"/><rect x="28" y="32" width="2" height="1"/><rect x="37" y="32" width="4" height="1"/><rect x="8" y="33" width="1" height="1"/><rect x="11" y="33" width="1" height="1"/><rect x="14" y="33" width="2" height="1"/><rect x="17" y="33" width="3" height="1"/><rect x="22" y="33" width="4" height="1"/><rect x="27" y="33" width="1" height="1"/><rect x="30" y="33" width="2" height="1"/><rect x="33" y="33" width="1" height="1"/><rect x="35" y="33" width="1" height="1"/><rect x="37" y="33" width="1" height="1"/><rect x="39" y="33" width="2" height="1"/><rect x="0" y="34" width="7" height="1"/><rect x="8" y="34" width="1" height="1"/><rect x="11" y="34" width="2" height="1"/><rect x="14" y="34" width="3" height="1"/><rect x="20" y="34" width="3" height="1"/><rect x="24" y="34" width="1" height="1"/><rect x="28" y="34" width="4" height="1"/><rect x="33" y="34" width="1" height="1"/><rect x="35" y="34" width="6" height="1"/><rect x="0" y="35" width="1" height="1"/><rect x="6" y="35" width="1" height="1"/><rect x="8" y="35" width="1" height="1"/><rect x="11" y="35" width="1" height="1"/><rect x="15" y="35" width="1" height="1"/><rect x="18" y="35" width="2" height="1"/><rect x="22" y="35" width="4" height="1"/><rect x="27" y="35" width="2" height="1"/><rect x="31" y="35" width="1" height="1"/><rect x="33" y="35" width="1" height="1"/><rect x="39" y="35" width="1" height="1"/><rect x="0" y="36" width="1" height="1"/><rect x="2" y="36" width="3" height="1"/><rect x="6" y="36" width="1" height="1"/><rect x="8" y="36" width="7" height="1"/><rect x="16" y="36" width="1" height="1"/><rect x="18" y="36" width="2" height="1"/><rect x="22" y="36" width="2" height="1"/><rect x="25" y="36" width="1" height="1"/><rect x="28" y="36" width="2" height="1"/><rect x="32" y="36" width="1" height="1"/><rect x="34" y="36" width="2" height="1"/><rect x="37" y="36" width="1" height="1"/><rect x="39" y="36" width="2" height="1"/><rect x="0" y="37" width="1" height="1"/><rect x="2" y="37" width="3" height="1"/><rect x="6" y="37" width="1" height="1"/><rect x="8" y="37" width="1" height="1"/><rect x="10" y="37" width="1" height="1"/><rect x="12" y="37" width="4" height="1"/><rect x="19" y="37" width="4" height="1"/><rect x="25" y="37" width="1" height="1"/><rect x="28" y="37" width="5" height="1"/><rect x="34" y="37" width="1" height="1"/><rect x="38" y="37" width="3" height="1"/><rect x="0" y="38" width="1" height="1"/><rect x="2" y="38" width="3" height="1"/><rect x="6" y="38" width="1" height="1"/><rect x="8" y="38" width="2" height="1"/><rect x="13" y="38" width="1" height="1"/><rect x="16" y="38" width="6" height="1"/><rect x="24" y="38" width="4" height="1"/><rect x="29" y="38" width="1" height="1"/><rect x="31" y="38" width="4" height="1"/><rect x="37" y="38" width="3" height="1"/><rect x="0" y="39" width="1" height="1"/><rect x="6" y="39" width="1" height="1"/><rect x="9" y="39" width="2" height="1"/><rect x="12" y="39" width="1" height="1"/><rect x="14" y="39" width="2" height="1"/><rect x="20" y="39" width="2" height="1"/><rect x="23" y="39" width="1" height="1"/><rect x="25" y="39" width="1" height="1"/><rect x="28" y="39" width="2" height="1"/><rect x="32" y="39" width="2" height="1"/><rect x="35" y="39" width="1" height="1"/><rect x="37" y="39" width="4" height="1"/><rect x="0" y="40" width="7" height="1"/><rect x="8" y="40" width="1" height="1"/><rect x="12" y="40" width="3" height="1"/><rect x="18" y="40" width="2" height="1"/><rect x="22" y="40" width="3" height="1"/><rect x="26" y="40" width="1" height="1"/><rect x="28" y="40" width="1" height="1"/><rect x="31" y="40" width="5" height="1"/><rect x="38" y="40" width="1" height="1"/></g></svg>
<div class="dot" style="left:394.9px;top:338.4px"></div><div class="ph" style="left:398.8px;top:337.6px">设备状态监测</div>
<div class="a" style="left:392px;top:342.6px;width:86.3px;height:0.6px;background:#eef0f3"></div>
<div class="tb" style="left:395.8px;top:346.3px;width:78.2px;height:29.6px"></div><div class="a" style="left:395.8px;top:346.3px;width:19.2px;height:29.6px;background:#f4f6f9"></div><div class="tk" style="left:398.0px;top:348.9px;font-size:2.62px">今日进场数量</div><div class="tv" style="left:417.2px;top:348.9px">1234</div><div class="a" style="left:395.8px;top:353.7px;width:78.2px;height:0.5px;background:#eef0f4"></div><div class="tk" style="left:398.0px;top:356.3px;font-size:2.62px">今日出场数量</div><div class="tv" style="left:417.2px;top:356.3px">2345</div><div class="a" style="left:395.8px;top:361.1px;width:78.2px;height:0.5px;background:#eef0f4"></div><div class="tk" style="left:398.0px;top:363.7px;font-size:2.90px">道闸总数</div><div class="tv" style="left:417.2px;top:363.7px">2</div><div class="a" style="left:395.8px;top:368.5px;width:78.2px;height:0.5px;background:#eef0f4"></div><div class="tk" style="left:398.0px;top:371.1px;font-size:2.90px">相机总数</div><div class="tv" style="left:417.2px;top:371.1px">2</div>
<div class="dot" style="left:484.7px;top:243.5px"></div><div class="ph" style="left:488.6px;top:242.7px">实时监控</div>
<div class="a" style="left:481px;top:247.7px;width:177px;height:0.6px;background:#eef0f3"></div>
<div class="a" style="left:486.2px;top:252px;width:52.7px;height:4.4px;background:#e2ecf5"></div>
<div class="lbl" style="left:487px;top:252.3px">入厂</div>
<svg class="a" style="left:486.2px;top:257px" width="52.7" height="30" viewBox="0 0 53 30" preserveAspectRatio="none"><use href="#inimg" width="53" height="30"/></svg>
<div class="a" style="left:543.5px;top:252px;width:53px;height:4.4px;background:#e2ecf5"></div>
<div class="lbl" style="left:544.3px;top:252.3px">出厂</div>
<svg class="a" style="left:543.5px;top:257px" width="53" height="30" viewBox="0 0 53 30" preserveAspectRatio="none"><use href="#outimg" width="53" height="30"/></svg>
<div class="dot" style="left:484.6px;top:318.6px"></div><div class="ph" style="left:488.5px;top:317.8px">识别记录</div>
<div class="a" style="left:481.3px;top:322.8px;width:176.7px;height:0.6px;background:#eef0f3"></div>
<div class="tb" style="left:485.5px;top:326px;width:168.2px;height:47.8px"></div>
<div class="a" style="left:485.5px;top:326px;width:168.2px;height:6.4px;background:#f4f6f9"></div>
<div class="a" style="left:508.7px;top:326px;width:0.5px;height:47.8px;background:#eef0f4"></div>
<div class="a" style="left:525.3px;top:326px;width:0.5px;height:47.8px;background:#eef0f4"></div>
<div class="a" style="left:582.9px;top:326px;width:0.5px;height:47.8px;background:#eef0f4"></div>
<div class="a" style="left:599.9px;top:326px;width:0.5px;height:47.8px;background:#eef0f4"></div>
<div class="a" style="left:616.8px;top:326px;width:0.5px;height:47.8px;background:#eef0f4"></div>
<div class="a" style="left:636.3px;top:326px;width:0.5px;height:47.8px;background:#eef0f4"></div>
<div class="tc" style="left:487.1px;top:327.7px">车牌号</div>
<div class="tc" style="left:507.0px;top:327.7px">抬杆方式</div>
<div class="tc" style="left:544.1px;top:327.7px">时间</div>
<div class="tc" style="left:581.4px;top:327.7px">燃油类型</div>
<div class="tc" style="left:598.3px;top:327.7px">排放标准</div>
<div class="tc" style="left:616.5px;top:327.7px">车牌图</div>
<div class="tc" style="left:635.0px;top:327.7px">车身图</div>
<div class="a" style="left:485.5px;top:332.4px;width:168.2px;height:0.5px;background:#eef0f4"></div>
<div class="a" style="left:489.6px;top:334.7px;width:7.5px;height:3.6px;background:#ecd820"></div>
<div class="a" style="left:497.1px;top:334.7px;width:6.6px;height:3.6px;background:#ef6f2c"></div>
<div class="a" style="left:490.3px;top:335.5px;font-size:2px;line-height:2px;color:#333">鲁MC</div>
<div class="tc" style="left:502.0px;width:30px;top:335.6px;font-weight:bold;color:#222;">自动抬杆</div>
<div class="tc" style="left:539.1px;width:30px;top:335.6px;">2025-11-25 10:35:33</div>
<div class="tc" style="left:576.4px;width:30px;top:335.6px;font-weight:bold;color:#222;">柴油</div>
<div class="tc" style="left:593.3px;width:30px;top:335.6px;font-weight:bold;color:#222;">国V</div>
<div class="a" style="left:619px;top:334.3px;width:16px;height:4.4px;background:#e4cf58"></div>
<div class="a" style="left:620.5px;top:335.3px;width:13px;height:2.2px;background:repeating-linear-gradient(90deg,#7a6a2a 0 1.1px,transparent 1.1px 1.9px);opacity:0.55"></div>
<div class="a" style="left:641px;top:334.4px;width:7.4px;height:4.4px;border-radius:1px;background:linear-gradient(180deg,#5c6167,#2a2d31 60%,#c9a23a)"></div>
<div class="a" style="left:485.5px;top:340.7px;width:168.2px;height:0.5px;background:#eef0f4"></div>
<div class="a" style="left:489.6px;top:343.0px;width:7.5px;height:3.6px;background:#7be3a0"></div>
<div class="a" style="left:497.1px;top:343.0px;width:6.6px;height:3.6px;background:#ef6f2c"></div>
<div class="a" style="left:490.3px;top:343.8px;font-size:2px;line-height:2px;color:#333">鲁MC</div>
<div class="tc" style="left:502.0px;width:30px;top:343.9px;font-weight:bold;color:#222;">禁止通行</div>
<div class="tc" style="left:539.1px;width:30px;top:343.9px;">2025-11-25 10:35:42</div>
<div class="tc" style="left:576.4px;width:30px;top:343.9px;font-weight:bold;color:#222;">汽油</div>
<div class="tc" style="left:593.3px;width:30px;top:343.9px;font-weight:bold;color:#222;">国六</div>
<div class="a" style="left:619px;top:342.6px;width:16px;height:4.4px;background:#e4cf58"></div>
<div class="a" style="left:620.5px;top:343.6px;width:13px;height:2.2px;background:repeating-linear-gradient(90deg,#7a6a2a 0 1.1px,transparent 1.1px 1.9px);opacity:0.55"></div>
<div class="a" style="left:641px;top:342.7px;width:7.4px;height:4.4px;border-radius:1px;background:linear-gradient(180deg,#5c6167,#2a2d31 60%,#c9a23a)"></div>
<div class="a" style="left:485.5px;top:349.0px;width:168.2px;height:0.5px;background:#eef0f4"></div>
<div class="a" style="left:489.6px;top:351.3px;width:7.5px;height:3.6px;background:#ecd820"></div>
<div class="a" style="left:497.1px;top:351.3px;width:6.6px;height:3.6px;background:#ef6f2c"></div>
<div class="a" style="left:490.3px;top:352.1px;font-size:2px;line-height:2px;color:#333">鲁MC</div>
<div class="tc" style="left:502.0px;width:30px;top:352.2px;font-weight:bold;color:#222;">禁止通行</div>
<div class="tc" style="left:539.1px;width:30px;top:352.2px;">2025-11-25 10:29:11</div>
<div class="tc" style="left:576.4px;width:30px;top:352.2px;font-weight:bold;color:#222;">汽油</div>
<div class="tc" style="left:593.3px;width:30px;top:352.2px;font-weight:bold;color:#222;">国六</div>
<div class="a" style="left:619px;top:350.9px;width:16px;height:4.4px;background:#e4cf58"></div>
<div class="a" style="left:620.5px;top:351.9px;width:13px;height:2.2px;background:repeating-linear-gradient(90deg,#7a6a2a 0 1.1px,transparent 1.1px 1.9px);opacity:0.55"></div>
<div class="a" style="left:641px;top:351.0px;width:7.4px;height:4.4px;border-radius:1px;background:linear-gradient(180deg,#5c6167,#2a2d31 60%,#c9a23a)"></div>
<div class="a" style="left:485.5px;top:357.2px;width:168.2px;height:0.5px;background:#eef0f4"></div>
<div class="a" style="left:489.6px;top:359.6px;width:7.5px;height:3.6px;background:#ecd820"></div>
<div class="a" style="left:497.1px;top:359.6px;width:6.6px;height:3.6px;background:#ef6f2c"></div>
<div class="a" style="left:490.3px;top:360.4px;font-size:2px;line-height:2px;color:#333">鲁MC</div>
<div class="tc" style="left:502.0px;width:30px;top:360.5px;font-weight:bold;color:#222;">自动抬杆</div>
<div class="tc" style="left:539.1px;width:30px;top:360.5px;">2025-11-25 10:26:34</div>
<div class="tc" style="left:576.4px;width:30px;top:360.5px;font-weight:bold;color:#222;">柴油</div>
<div class="tc" style="left:593.3px;width:30px;top:360.5px;font-weight:bold;color:#222;">国V</div>
<div class="a" style="left:619px;top:359.2px;width:16px;height:4.4px;background:#e4cf58"></div>
<div class="a" style="left:620.5px;top:360.2px;width:13px;height:2.2px;background:repeating-linear-gradient(90deg,#7a6a2a 0 1.1px,transparent 1.1px 1.9px);opacity:0.55"></div>
<div class="a" style="left:641px;top:359.3px;width:7.4px;height:4.4px;border-radius:1px;background:linear-gradient(180deg,#5c6167,#2a2d31 60%,#c9a23a)"></div>
<div class="a" style="left:485.5px;top:365.5px;width:168.2px;height:0.5px;background:#eef0f4"></div>
<div class="a" style="left:489.6px;top:367.9px;width:7.5px;height:3.6px;background:#ecd820"></div>
<div class="a" style="left:497.1px;top:367.9px;width:6.6px;height:3.6px;background:#ef6f2c"></div>
<div class="a" style="left:490.3px;top:368.7px;font-size:2px;line-height:2px;color:#333">鲁MC</div>
<div class="tc" style="left:502.0px;width:30px;top:368.8px;font-weight:bold;color:#222;">自动抬杆</div>
<div class="tc" style="left:539.1px;width:30px;top:368.8px;">2025-11-25 10:26:29</div>
<div class="tc" style="left:576.4px;width:30px;top:368.8px;font-weight:bold;color:#222;">柴油</div>
<div class="tc" style="left:593.3px;width:30px;top:368.8px;font-weight:bold;color:#222;">国V</div>
<div class="a" style="left:619px;top:367.5px;width:16px;height:4.4px;background:#e4cf58"></div>
<div class="a" style="left:620.5px;top:368.5px;width:13px;height:2.2px;background:repeating-linear-gradient(90deg,#7a6a2a 0 1.1px,transparent 1.1px 1.9px);opacity:0.55"></div>
<div class="a" style="left:641px;top:367.6px;width:7.4px;height:4.4px;border-radius:1px;background:linear-gradient(180deg,#5c6167,#2a2d31 60%,#c9a23a)"></div>
<div class="dot" style="left:664.0px;top:243.6px"></div><div class="ph" style="left:668.0px;top:242.8px">平台对接状态</div>
<div class="a" style="left:661px;top:247.8px;width:86.4px;height:0.6px;background:#eef0f3"></div>
<div class="tb" style="left:665.5px;top:250.4px;width:78px;height:22.8px"></div><div class="a" style="left:665.5px;top:250.4px;width:22.5px;height:22.8px;background:#f4f6f9"></div><div class="tk" style="left:667.7px;top:253.1px;font-size:2.90px">推送状态</div><div class="a" style="left:665.5px;top:258.0px;width:78px;height:0.5px;background:#eef0f4"></div><div class="tk" style="left:667.7px;top:260.7px;font-size:2.90px">推送时间</div><div class="tv" style="left:690.2px;top:260.7px">无</div><div class="a" style="left:665.5px;top:265.6px;width:78px;height:0.5px;background:#eef0f4"></div><div class="tk" style="left:667.7px;top:268.3px;font-size:2.90px">推送内容</div><div class="tv" style="left:690.2px;top:268.3px">无</div>
<div class="a" style="left:690.4px;top:253.2px;width:12.6px;height:4.2px;border-radius:0.8px;background:#28d7ea"></div>
<div class="a" style="left:692px;top:254.1px;font-size:2.2px;line-height:2.5px;color:#fff;white-space:nowrap">推送成功</div>
<div class="dot" style="left:664.0px;top:284.9px"></div><div class="ph" style="left:668.0px;top:284.1px">识别记录</div>
<div class="a" style="left:661px;top:289.1px;width:86.4px;height:0.6px;background:#eef0f3"></div>
<div class="rc sm" style="left:664.9px;top:292.6px"><svg width="168" height="53" viewBox="0 0 168 53"><use href="#rec" width="168" height="53"/></svg>
<div class="bd" style="left:9.3px;width:33px">鲁MC<span style="position:absolute;left:18px;top:2.3px;width:11.7px;height:5.1px;background:#ef6a2a"></span></div>
<div class="bd" style="left:67.7px;width:19.5px">黄牌</div>
<div class="tx" style="left:127px;top:64px;color:#333">自动抬杆</div>
<div class="tx" style="left:9px;top:77px">柴油</div>
<div class="tx" style="left:38.4px;top:77px">国V</div>
<div class="tx" style="left:67.7px;top:77px;letter-spacing:-0.05px">2025-11-25 10:42:05</div></div>
<div class="rc sm" style="left:664.9px;top:334.3px"><svg width="168" height="53" viewBox="0 0 168 53"><use href="#rec" width="168" height="53"/></svg>
<div class="bd" style="left:9.3px;width:33px">鲁MC<span style="position:absolute;left:18px;top:2.3px;width:11.7px;height:5.1px;background:#ef6a2a"></span></div>
<div class="bd" style="left:67.7px;width:19.5px">黄牌</div>
<div class="tx" style="left:127px;top:64px;color:#333">自动抬杆</div>
<div class="tx" style="left:9px;top:77px">柴油</div>
<div class="tx" style="left:38.4px;top:77px">国V</div>
<div class="tx" style="left:67.7px;top:77px;letter-spacing:-0.05px">2025-11-25 10:41:55</div></div>
<!-- GEN END -->
</body></html>
